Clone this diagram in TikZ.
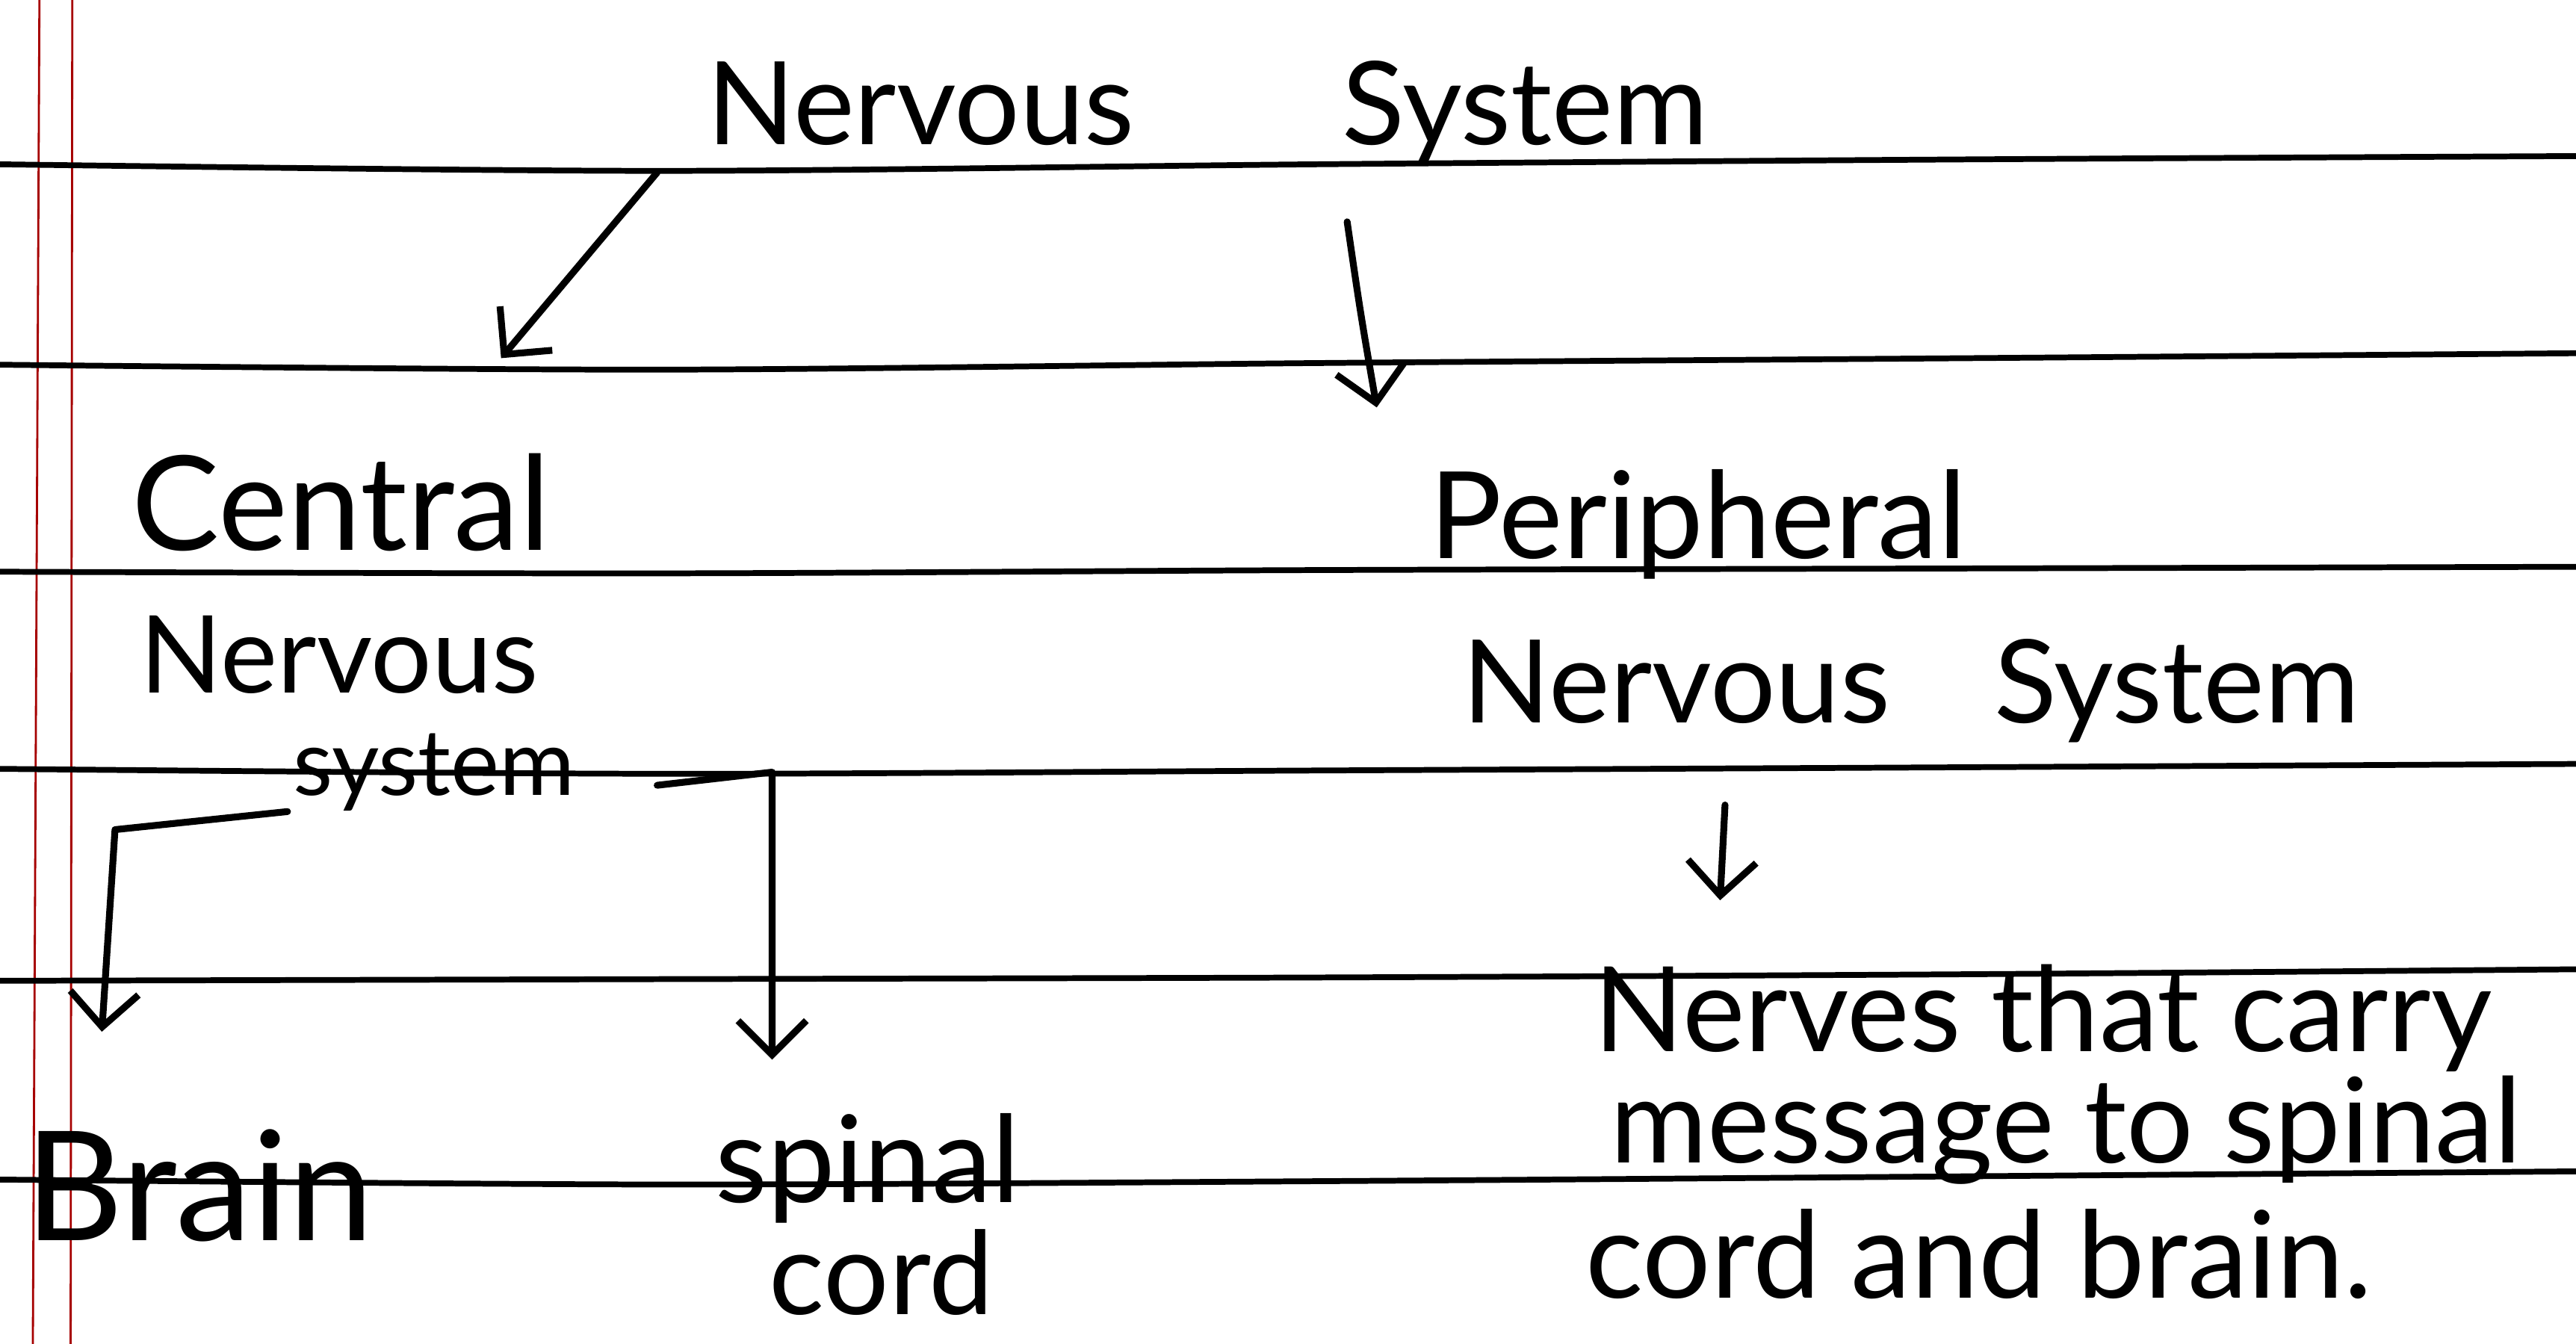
\documentclass[tikz,border=0pt]{standalone}
\usepackage{fontspec}
\setmainfont{Lato}
\usetikzlibrary{arrows.meta}
\begin{document}
\begin{tikzpicture}[x=0.02199cm,y=-0.02199cm,
  rule/.style={line width=2.2pt, black},
  margin/.style={line width=0.8pt, red!65!black},
  hand/.style={font=\fontsize{44}{50}\selectfont, inner sep=0pt, anchor=base west},
  small/.style={hand, font=\fontsize{36}{42}\selectfont},
  link/.style={line width=2.6pt, line cap=round, line join=round,
    -{Straight Barb[length=13pt,width=26pt,line width=2.6pt]}}
]
\useasboundingbox (0,0) rectangle (1568,818);
\fill[white] (0,0) rectangle (1568,818);

% margin lines of the notebook page
\draw[margin] (24,0) -- (20,818);
\draw[margin] (44,0) -- (43,818);

% ruled lines
\draw[rule] plot[smooth] coordinates {(0,100) (400,104) (800,100) (1200,97) (1568,95)};
\draw[rule] plot[smooth] coordinates {(0,222) (400,225) (800,221) (1200,218) (1568,215)};
\draw[rule] plot[smooth] coordinates {(0,348) (400,349) (800,347) (1200,346) (1568,345)};
\draw[rule] plot[smooth] coordinates {(0,468) (400,471) (800,469) (1200,467) (1568,465)};
\draw[rule] plot[smooth] coordinates {(0,597) (400,596) (800,595) (1200,593) (1568,590)};
\draw[rule] plot[smooth] coordinates {(0,718) (400,721) (800,719) (1200,716) (1568,713)};

% headings and labels
\node[hand] (ns) at (430,88) {Nervous\hspace{1.8em}System};
\node[hand, font=\fontsize{50}{56}\selectfont] (cnsA) at (80,335) {Central};
\node[hand, font=\fontsize{41}{46}\selectfont] (cnsB) at (85,422) {Nervous};
\node[small, font=\fontsize{35}{40}\selectfont] (cnsC) at (178,484) {system};
\node[hand, font=\fontsize{46}{52}\selectfont] (pnsA) at (870,340) {Peripheral};
\node[hand] (pnsB) at (890,440) {Nervous\hspace{0.9em}System};
\node[hand, font=\fontsize{58}{64}\selectfont] (brain) at (15,755) {Brain};
\node[hand, font=\fontsize{46}{52}\selectfont] (spA) at (435,732) {spinal};
\node[hand] (spB) at (468,800) {cord};
\node[hand, font=\fontsize{45}{52}\selectfont] (nvA) at (970,640) {Nerves that carry};
\node[hand, font=\fontsize{45}{52}\selectfont] (nvB) at (980,708) {message to spinal};
\node[hand, font=\fontsize{46}{52}\selectfont] (nvC) at (965,790) {cord and brain.};

% connector end points
\coordinate (a1s) at (400,105);
\coordinate (a1e) at (305,218);
\coordinate (a2s) at (820,135);
\coordinate (a2e) at (838,248);
\coordinate (b1s) at (175,494);
\coordinate (b1k) at (70,505);
\coordinate (b1e) at (62,628);
\coordinate (b2s) at (400,478);
\coordinate (b2k) at (470,470);
\coordinate (b2e) at (470,645);
\coordinate (a3s) at (1050,490);
\coordinate (a3e) at (1047,548);

% arrows
\draw[link] (a1s) -- (a1e);
\draw[link] (a2s) .. controls (828,190) .. (a2e);
\draw[link] (b1s) -- (b1k) -- (b1e);
\draw[link] (b2s) -- (b2k) -- (b2e);
\draw[link] (a3s) -- (a3e);
\end{tikzpicture}
\end{document}
